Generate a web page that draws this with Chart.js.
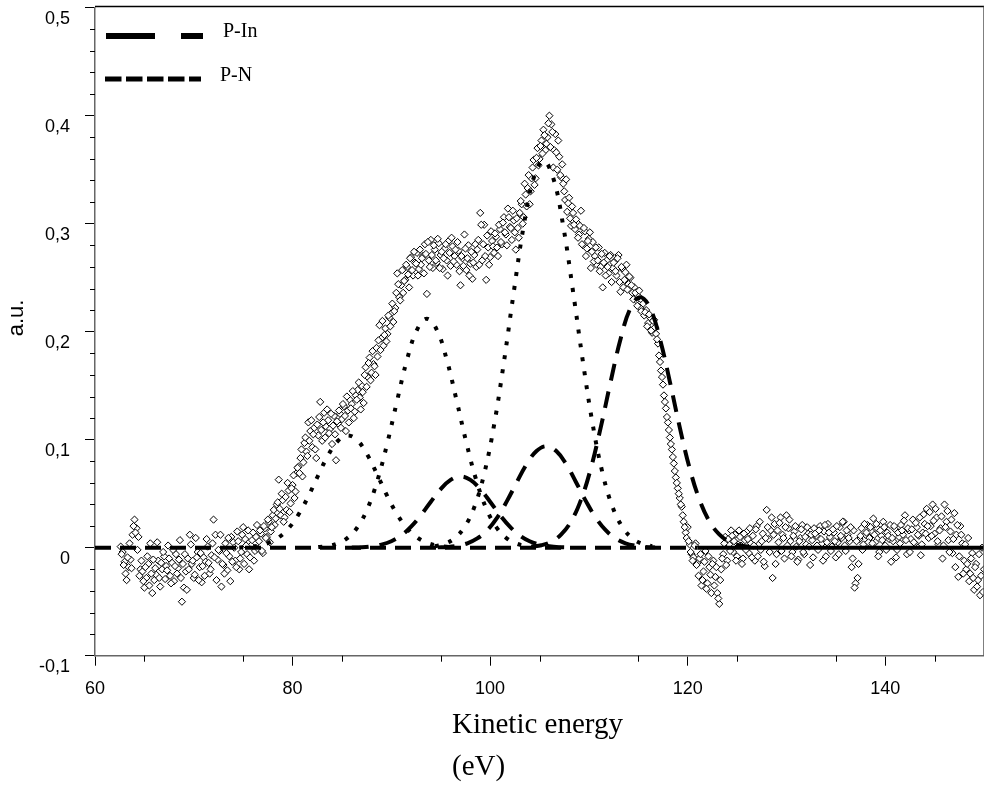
<!DOCTYPE html>
<html>
<head>
<meta charset="utf-8">
<script src="https://cdn.jsdelivr.net/npm/chart.js@4.4.1/dist/chart.umd.min.js"></script>
<style>
  html, body { margin: 0; padding: 0; background: #fff; overflow: hidden; }
  #wrap { position: relative; width: 989px; height: 787px; }
</style>
</head>
<body>
<div id="wrap"><canvas id="augerChart"></canvas></div>
<script>
// measured spectrum, two interleaved runs of 0.2 eV steps (62.6, 62.8, ... and 62.7, 62.9, ...)
const EV_STEP = 0.2;
const EV_START_A = 62.6;
const measuredA = [
  0.001, -0.004, -0.013, -0.030, -0.018, -0.011, 0.012, 0.026, 0.018, 0.010,
  -0.020, -0.022, -0.037, -0.028, -0.015, 0.004, -0.042, -0.030, -0.025, -0.012,
  -0.036, -0.020, -0.008, -0.017, 0.002, -0.026, -0.014, -0.031, -0.006, -0.019,
  0.007, -0.050, -0.037, -0.022, -0.010, 0.012, -0.015, -0.028, 0.009, -0.004,
  -0.018, -0.032, -0.009, -0.013, 0.001, -0.024, -0.007, 0.026, 0.012, -0.011,
  -0.003, -0.036, -0.016, 0.004, -0.021, -0.008, 0.010, 0.005, -0.012, 0.015,
  -0.020, -0.004, 0.019, 0.008, -0.006, -0.020, 0.002, 0.014, -0.003, 0.021,
  0.006, 0.013, -0.005, 0.018, 0.010, 0.024, 0.015, 0.030, 0.021, 0.040,
  0.063, 0.030, 0.044, 0.028, 0.035, 0.053, 0.041, 0.058, 0.046, 0.069,
  0.075, 0.083, 0.066, 0.097, 0.089, 0.116, 0.108, 0.093, 0.111, 0.083,
  0.104, 0.135, 0.099, 0.125, 0.112, 0.118, 0.110, 0.096, 0.122, 0.081,
  0.115, 0.124, 0.119, 0.131, 0.108, 0.127, 0.137, 0.133, 0.120, 0.141,
  0.146, 0.139, 0.150, 0.134, 0.167, 0.158, 0.176, 0.162, 0.170, 0.160,
  0.177, 0.206, 0.194, 0.187, 0.203, 0.198, 0.213, 0.217, 0.209, 0.222,
  0.254, 0.232, 0.243, 0.236, 0.248, 0.260, 0.241, 0.269, 0.252, 0.264,
  0.273, 0.258, 0.262, 0.270, 0.281, 0.235, 0.266, 0.285, 0.259, 0.276,
  0.264, 0.282, 0.271, 0.258, 0.277, 0.266, 0.284, 0.261, 0.279, 0.270,
  0.262, 0.275, 0.243, 0.268, 0.290, 0.257, 0.280, 0.263, 0.249, 0.271,
  0.260, 0.285, 0.310, 0.266, 0.299, 0.248, 0.278, 0.269, 0.284, 0.273,
  0.288, 0.270, 0.295, 0.281, 0.306, 0.290, 0.314, 0.297, 0.285, 0.303,
  0.276, 0.296, 0.310, 0.318, 0.306, 0.327, 0.333, 0.318, 0.342, 0.359,
  0.342, 0.370, 0.360, 0.377, 0.387, 0.368, 0.380, 0.400, 0.392, 0.352,
  0.383, 0.350, 0.362, 0.343, 0.337, 0.322, 0.311, 0.324, 0.298, 0.310,
  0.295, 0.301, 0.290, 0.312, 0.280, 0.293, 0.277, 0.286, 0.259, 0.283,
  0.270, 0.262, 0.278, 0.260, 0.241, 0.273, 0.266, 0.254, 0.271, 0.259,
  0.265, 0.252, 0.271, 0.237, 0.258, 0.248, 0.262, 0.244, 0.250, 0.236,
  0.241, 0.229, 0.233, 0.222, 0.229, 0.215, 0.220, 0.208, 0.213, 0.199,
  0.211, 0.198, 0.189, 0.172, 0.158, 0.141, 0.129, 0.116, 0.102, 0.091,
  0.078, 0.065, 0.055, 0.046, 0.038, 0.024, 0.014, 0.019, 0.003, -0.006,
  -0.009, 0.004, -0.014, -0.010, -0.035, -0.022, -0.003, -0.033, -0.018, -0.042,
  -0.012, -0.027, -0.042, -0.052, -0.020, -0.006, 0.010, -0.012, 0.003, 0.016,
  -0.004, 0.012, -0.008, 0.016, 0.002, -0.010, 0.007, 0.015, -0.005, 0.004,
  0.011, -0.012, 0.020, 0.003, -0.002, 0.013, -0.017, 0.035, 0.008, 0.016,
  -0.028, 0.022, -0.006, 0.005, 0.028, 0.012, -0.010, 0.030, 0.018, 0.006,
  -0.004, 0.015, 0.001, -0.011, 0.009, 0.021, -0.006, 0.003, 0.013, -0.016,
  0.007, 0.018, 0.011, -0.002, 0.020, 0.004, 0.015, -0.008, 0.022, 0.010,
  0.001, 0.014, -0.009, 0.005, 0.019, 0.009, 0.024, -0.003, 0.012, 0.006,
  -0.018, 0.016, -0.033, -0.028, 0.008, 0.018, 0.003, 0.012, 0.021, 0.009,
  0.015, 0.027, 0.005, 0.018, -0.004, 0.011, 0.024, 0.002, 0.014, 0.008,
  -0.013, 0.006, 0.017, -0.002, 0.010, 0.021, 0.012, 0.030, -0.006, 0.016,
  0.008, 0.026, 0.004, 0.019, 0.011, -0.007, 0.014, 0.022, 0.036, 0.009,
  0.020, 0.040, 0.013, 0.028, 0.003, 0.018, -0.010, 0.040, 0.024, 0.007,
  0.015, -0.005, 0.032, 0.012, -0.027, 0.020, 0.004, -0.012, -0.020, 0.009,
  -0.024, -0.005, -0.039, -0.015, -0.030, -0.044, 0.000, -0.020
];
const EV_START_B = 62.7;
const measuredB = [
  -0.006, -0.016, -0.024, -0.009, 0.004, -0.019, 0.020, 0.014, -0.002, -0.026,
  -0.012, -0.031, -0.018, -0.008, -0.035, -0.024, -0.011, -0.019, 0.005, -0.028,
  -0.014, -0.004, -0.029, -0.021, -0.010, -0.033, -0.002, -0.017, -0.024, -0.011,
  -0.028, -0.015, -0.006, -0.039, -0.020, 0.003, -0.012, -0.025, -0.009, -0.030,
  -0.005, -0.017, -0.026, 0.008, -0.014, -0.020, 0.004, -0.009, -0.030, -0.002,
  0.012, -0.015, -0.024, -0.005, 0.009, -0.031, -0.013, 0.000, -0.018, 0.006,
  -0.010, 0.012, -0.015, 0.002, 0.016, -0.009, 0.007, -0.012, 0.010, -0.001,
  0.016, -0.003, 0.020, 0.009, 0.026, 0.005, 0.019, 0.035, 0.027, 0.042,
  0.036, 0.050, 0.024, 0.047, 0.060, 0.033, 0.055, 0.067, 0.052, 0.074,
  0.069, 0.091, 0.079, 0.102, 0.085, 0.099, 0.118, 0.105, 0.091, 0.114,
  0.121, 0.109, 0.116, 0.102, 0.128, 0.106, 0.124, 0.113, 0.105, 0.117,
  0.127, 0.111, 0.133, 0.122, 0.140, 0.116, 0.129, 0.145, 0.126, 0.137,
  0.153, 0.128, 0.144, 0.160, 0.149, 0.171, 0.155, 0.182, 0.168, 0.185,
  0.192, 0.183, 0.210, 0.197, 0.191, 0.215, 0.205, 0.226, 0.219, 0.236,
  0.244, 0.229, 0.257, 0.247, 0.262, 0.253, 0.268, 0.257, 0.274, 0.263,
  0.252, 0.276, 0.268, 0.254, 0.272, 0.283, 0.260, 0.271, 0.280, 0.266,
  0.286, 0.259, 0.274, 0.268, 0.281, 0.252, 0.273, 0.287, 0.265, 0.276,
  0.283, 0.256, 0.270, 0.261, 0.277, 0.268, 0.252, 0.274, 0.264, 0.281,
  0.276, 0.262, 0.299, 0.281, 0.270, 0.289, 0.262, 0.293, 0.279, 0.291,
  0.278, 0.299, 0.283, 0.301, 0.292, 0.280, 0.306, 0.296, 0.312, 0.292,
  0.305, 0.287, 0.321, 0.300, 0.337, 0.316, 0.345, 0.330, 0.352, 0.336,
  0.361, 0.354, 0.372, 0.365, 0.382, 0.374, 0.393, 0.371, 0.385, 0.368,
  0.366, 0.377, 0.345, 0.355, 0.330, 0.341, 0.319, 0.305, 0.316, 0.299,
  0.304, 0.287, 0.298, 0.281, 0.296, 0.270, 0.284, 0.292, 0.274, 0.265,
  0.278, 0.266, 0.256, 0.272, 0.264, 0.252, 0.260, 0.270, 0.246, 0.264,
  0.256, 0.268, 0.246, 0.260, 0.241, 0.255, 0.239, 0.251, 0.243, 0.230,
  0.236, 0.224, 0.238, 0.219, 0.226, 0.218, 0.205, 0.216, 0.201, 0.210,
  0.204, 0.193, 0.178, 0.164, 0.151, 0.135, 0.121, 0.109, 0.096, 0.084,
  0.071, 0.060, 0.050, 0.040, 0.030, 0.019, 0.009, 0.006, -0.004, -0.012,
  0.002, -0.016, -0.026, -0.006, -0.030, -0.013, -0.038, -0.008, -0.025, -0.015,
  -0.035, -0.018, -0.047, -0.030, -0.010, 0.004, -0.016, 0.008, -0.003, 0.011,
  0.006, -0.012, 0.003, 0.010, -0.015, 0.013, -0.002, 0.008, 0.018, -0.009,
  0.002, 0.017, -0.008, 0.024, 0.006, -0.013, 0.009, 0.019, -0.004, 0.028,
  0.012, -0.015, 0.016, 0.023, -0.003, 0.009, 0.019, 0.002, 0.026, -0.008,
  0.011, 0.020, -0.013, 0.006, 0.017, -0.004, 0.010, 0.019, 0.001, 0.012,
  -0.009, 0.013, 0.002, 0.016, 0.008, -0.012, 0.021, 0.005, 0.014, -0.003,
  0.017, 0.006, 0.020, -0.006, 0.011, 0.024, 0.002, 0.016, 0.009, 0.019,
  -0.010, -0.037, 0.006, -0.015, 0.011, -0.002, 0.022, 0.014, 0.005, 0.019,
  0.004, 0.012, 0.022, -0.008, 0.016, 0.007, 0.019, -0.002, 0.011, 0.021,
  0.009, 0.020, -0.009, 0.014, 0.004, 0.016, 0.025, 0.007, 0.018, -0.004,
  0.017, 0.005, 0.023, 0.012, 0.028, 0.003, 0.031, 0.013, 0.020, 0.033,
  0.011, 0.025, 0.036, 0.006, 0.016, 0.029, 0.002, 0.019, 0.034, -0.004,
  0.026, 0.008, -0.018, 0.021, -0.008, 0.012, -0.024, 0.003, -0.015, -0.031,
  -0.010, -0.028, -0.018, -0.036, -0.006, -0.026, -0.041
];

// fitted components (dotted)
const dot1X = [74.6, 75.6, 76.6, 77.6, 78.6, 79.6, 80.6, 81.6, 82.6, 83.6, 84.6, 85.6, 86.6, 87.6, 88.6, 89.6, 90.6, 91.6, 92.6, 93.6, 94.6, 95.6, 96.6];
const dot1Y = [0.0003, 0.0008, 0.002, 0.0046, 0.0095, 0.0179, 0.0307, 0.0476, 0.0671, 0.0856, 0.099, 0.104, 0.099, 0.0856, 0.0671, 0.0476, 0.0307, 0.0179, 0.0095, 0.0046, 0.002, 0.0008, 0.0003];
const dot2X = [82.6, 83.6, 84.6, 85.6, 86.6, 87.6, 88.6, 89.6, 90.6, 91.6, 92.6, 93.6, 94.6, 95.6, 96.6, 97.6, 98.6, 99.6, 100.6, 101.6, 102.6, 103.6, 104.6];
const dot2Y = [0.0006, 0.0016, 0.0041, 0.0093, 0.0194, 0.0365, 0.0625, 0.0971, 0.1367, 0.1745, 0.2018, 0.212, 0.2018, 0.1745, 0.1367, 0.0971, 0.0625, 0.0365, 0.0194, 0.0093, 0.0041, 0.0016, 0.0006];
const dot3X = [94.4, 95.4, 96.4, 97.4, 98.4, 99.4, 100.4, 101.4, 102.4, 103.4, 104.4, 105.4, 106.4, 107.4, 108.4, 109.4, 110.4, 111.4, 112.4, 113.4, 114.4, 115.4, 116.4];
const dot3Y = [0.0014, 0.0036, 0.0087, 0.019, 0.0376, 0.0684, 0.1135, 0.172, 0.237, 0.298, 0.342, 0.358, 0.342, 0.298, 0.237, 0.172, 0.1135, 0.0684, 0.0376, 0.019, 0.0087, 0.0036, 0.0014];

// fitted components (dashed)
const dash1X = [86, 87, 88, 89, 90, 91, 92, 93, 94, 95, 96, 97, 98, 99, 100, 101, 102, 103, 104, 105, 106, 107, 108];
const dash1Y = [0.0002, 0.0005, 0.0013, 0.0029, 0.006, 0.0114, 0.0195, 0.0302, 0.0426, 0.0543, 0.0628, 0.066, 0.0628, 0.0543, 0.0426, 0.0302, 0.0195, 0.0114, 0.006, 0.0029, 0.0013, 0.0005, 0.0002];
const dash2X = [94.7, 95.7, 96.7, 97.7, 98.7, 99.7, 100.7, 101.7, 102.7, 103.7, 104.7, 105.7, 106.7, 107.7, 108.7, 109.7, 110.7, 111.7, 112.7, 113.7, 114.7, 115.7, 116.7];
const dash2Y = [0.0003, 0.0007, 0.0018, 0.0041, 0.0086, 0.0162, 0.0277, 0.0431, 0.0606, 0.0774, 0.0895, 0.094, 0.0895, 0.0774, 0.0606, 0.0431, 0.0277, 0.0162, 0.0086, 0.0041, 0.0018, 0.0007, 0.0003];
const dash3X = [104.2, 105.2, 106.2, 107.2, 108.2, 109.2, 110.2, 111.2, 112.2, 113.2, 114.2, 115.2, 116.2, 117.2, 118.2, 119.2, 120.2, 121.2, 122.2, 123.2, 124.2, 125.2, 126.2];
const dash3Y = [0.0009, 0.0023, 0.0056, 0.0123, 0.0244, 0.0443, 0.0735, 0.1114, 0.1536, 0.193, 0.2216, 0.232, 0.2216, 0.193, 0.1536, 0.1114, 0.0735, 0.0443, 0.0244, 0.0123, 0.0056, 0.0023, 0.0009];

const baseDashedX = [60, 121];
const baseSolidX = [121, 150];

const legendLabels = ['P-In', 'P-N'];
const xTitle = ['Kinetic energy', '(eV)'];
const yTitle = 'a.u.';

function pts(xs, ys) {
  return xs.map((x, i) => ({ x: x, y: ys[i] }));
}

const scatterPts = measuredA.map((v, i) => ({ x: EV_START_A + i * EV_STEP, y: v }))
  .concat(measuredB.map((v, i) => ({ x: EV_START_B + i * EV_STEP, y: v })));

function curve(xs, ys, dash) {
  return {
    data: pts(xs, ys),
    showLine: true,
    borderColor: '#000',
    borderWidth: 4,
    borderDash: dash,
    borderCapStyle: 'butt',
    pointRadius: 0,
    tension: 0.4,
    fill: false,
    order: 1
  };
}

const dotted = [4, 10];
const dashed = [17, 11];

// minor ticks, frame, titles, legend
const decorPlugin = {
  id: 'decor',
  afterDraw(chart) {
    const ctx = chart.ctx;
    const xs = chart.scales.x;
    const ys = chart.scales.y;
    const a = chart.chartArea;
    ctx.save();

    ctx.strokeStyle = '#000';
    ctx.lineWidth = 1;
    ctx.beginPath();
    for (let v = -100; v <= 500; v += 20) {
      if (v % 100 === 0) continue;
      const py = Math.round(ys.getPixelForValue(v / 1000)) + 0.5;
      ctx.moveTo(a.left - 5, py);
      ctx.lineTo(a.left, py);
    }
    for (let v = 65; v <= 145; v += 10) {
      const px = Math.round(xs.getPixelForValue(v)) + 0.5;
      ctx.moveTo(px, a.bottom);
      ctx.lineTo(px, a.bottom + 6);
    }
    ctx.stroke();

    // top and right frame
    ctx.beginPath();
    ctx.lineWidth = 1.5;
    ctx.strokeStyle = '#000';
    ctx.moveTo(a.left, 6.5);
    ctx.lineTo(a.right, 6.5);
    ctx.stroke();
    ctx.beginPath();
    ctx.strokeStyle = '#555';
    ctx.moveTo(a.right, 6.5);
    ctx.lineTo(a.right, a.bottom);
    ctx.stroke();

    // legend
    ctx.strokeStyle = '#000';
    ctx.lineWidth = 6;
    ctx.setLineDash([49, 26, 22, 1000]);
    ctx.beginPath();
    ctx.moveTo(106, 36);
    ctx.lineTo(203, 36);
    ctx.stroke();
    ctx.lineWidth = 5;
    ctx.setLineDash([16.5, 4.5]);
    ctx.beginPath();
    ctx.moveTo(105, 79);
    ctx.lineTo(201, 79);
    ctx.stroke();
    ctx.setLineDash([]);

    ctx.fillStyle = '#000';
    ctx.textAlign = 'left';
    ctx.textBaseline = 'alphabetic';
    ctx.font = '20px "Liberation Serif", "Times New Roman", serif';
    ctx.fillText(legendLabels[0], 223, 37);
    ctx.fillText(legendLabels[1], 220, 81);

    // axis titles
    ctx.font = '29px "Liberation Serif", "Times New Roman", serif';
    ctx.fillText(xTitle[0], 452, 733);
    ctx.fillText(xTitle[1], 452, 775);

    ctx.font = '22px "Liberation Sans", Arial, sans-serif';
    ctx.translate(23, 318);
    ctx.rotate(-Math.PI / 2);
    ctx.textAlign = 'center';
    ctx.fillText(yTitle, 0, 0);
    ctx.restore();
  }
};

const tickFont = { family: '"Liberation Sans", Arial, sans-serif', size: 18 };

new Chart(document.getElementById('augerChart'), {
  type: 'scatter',
  data: {
    datasets: [
      curve(dot1X, dot1Y, dotted),
      curve(dot2X, dot2Y, dotted),
      curve(dot3X, dot3Y, dotted),
      curve(dash1X, dash1Y, dashed),
      curve(dash2X, dash2Y, dashed),
      curve(dash3X, dash3Y, dashed),
      Object.assign(curve(baseDashedX, [0, 0], [16, 9]), { tension: 0 }),
      Object.assign(curve(baseSolidX, [0, 0], []), { tension: 0 }),
      {
        data: scatterPts,
        pointStyle: 'rectRot',
        pointRadius: 3.6,
        pointBorderWidth: 1,
        pointBorderColor: '#000',
        pointBackgroundColor: '#fff',
        showLine: false,
        order: 5
      }
    ]
  },
  options: {
    responsive: true,
    maintainAspectRatio: false,
    animation: false,
    layout: { padding: { top: 7.7, right: 0, left: 0, bottom: 0 } },
    plugins: {
      legend: { display: false },
      tooltip: { enabled: false }
    },
    scales: {
      x: {
        type: 'linear',
        min: 60,
        max: 150,
        afterFit: s => { s.height = 131.3; s.paddingLeft = 0; s.paddingRight = 0; },
        border: { display: true, color: '#666', width: 1.5 },
        grid: { drawOnChartArea: false, drawTicks: true, tickLength: 10, color: '#000' },
        ticks: {
          stepSize: 20,
          padding: 13,
          color: '#000',
          font: tickFont,
          maxRotation: 0,
          callback: v => (v % 20 === 0 ? String(v) : '')
        }
      },
      y: {
        type: 'linear',
        min: -0.1,
        max: 0.5,
        afterFit: s => { s.width = 95; s.paddingTop = 0; s.paddingBottom = 0; },
        border: { display: true, color: '#666', width: 1.5 },
        grid: { drawOnChartArea: false, drawTicks: true, tickLength: 10, color: '#000' },
        ticks: {
          stepSize: 0.1,
          padding: 15,
          labelOffset: 11,
          color: '#000',
          font: tickFont,
          callback: v => (Math.abs(v) < 1e-9 ? '0' : v.toFixed(1).replace('.', ','))
        }
      }
    }
  },
  plugins: [decorPlugin]
});
</script>
</body>
</html>
